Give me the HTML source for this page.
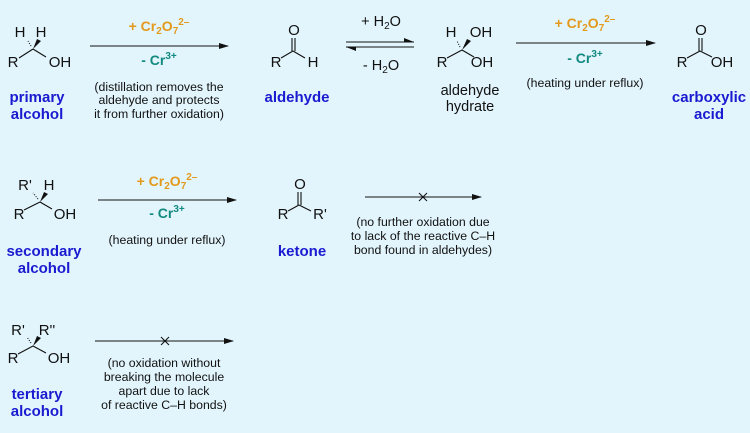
<!DOCTYPE html>
<html><head><meta charset="utf-8"><style>
html,body{margin:0;padding:0;background:#e2f5fc;}
svg{display:block;font-family:"Liberation Sans",Arial,sans-serif;}
.s{font-size:15px;fill:#111;}
.b{font-size:15px;font-weight:bold;fill:#1a1ad0;}
.o{font-size:14px;font-weight:bold;fill:#e39a1c;}
.t{font-size:14px;font-weight:bold;fill:#138a80;}
.n{font-size:12.3px;fill:#111;}
.h{font-size:14.5px;fill:#111;}
line{stroke:#111;stroke-width:1.1;}
</style></head><body>
<svg width="750" height="433" viewBox="0 0 750 433">
<defs><marker id="a" markerWidth="10" markerHeight="6" refX="9" refY="3" orient="auto" markerUnits="userSpaceOnUse"><path d="M0,0 L10,3 L0,6 Z" fill="#111"/></marker></defs>
<g text-anchor="middle">
<!-- primary alcohol -->
<text class="s" x="20" y="37">H</text><text class="s" x="41" y="37">H</text>
<text class="s" x="13" y="67">R</text><text class="s" x="60" y="67">OH</text>
<line x1="19" y1="58" x2="33" y2="49"/><line x1="33" y1="49" x2="46" y2="57"/>
<path d="M33,49 L37,39 L41,41 Z" fill="#111"/>
<line x1="31" y1="46" x2="28" y2="41" stroke-dasharray="1,1.5" stroke-width="2.5"/>
<text class="b" x="37" y="102">primary</text><text class="b" x="37" y="119">alcohol</text>
<!-- arrow 1 -->
<line x1="90" y1="46" x2="228" y2="46" marker-end="url(#a)"/>
<text class="o" x="159" y="31">+ Cr<tspan font-size="10" dy="3">2</tspan><tspan dy="-3">O</tspan><tspan font-size="10" dy="3">7</tspan><tspan font-size="10" dy="-9">2–</tspan></text>
<text class="t" x="159" y="65">- Cr<tspan font-size="10" dy="-6">3+</tspan></text>
<text class="n" x="159" y="91">(distillation removes the</text>
<text class="n" x="159" y="104">aldehyde and protects</text>
<text class="n" x="159" y="118">it from further oxidation)</text>
<!-- aldehyde -->
<text class="s" x="294" y="35">O</text>
<text class="s" x="276" y="67">R</text><text class="s" x="313" y="67">H</text>
<line x1="292" y1="38" x2="292" y2="51"/><line x1="295" y1="38" x2="295" y2="51"/>
<line x1="281" y1="58" x2="293" y2="51"/><line x1="293" y1="51" x2="305" y2="58"/>
<text class="b" x="297" y="102">aldehyde</text>
<!-- equilibrium -->
<text class="h" x="381" y="26">+ H<tspan font-size="10" dy="3">2</tspan><tspan dy="-3">O</tspan></text>
<text class="h" x="381" y="70">- H<tspan font-size="10" dy="3">2</tspan><tspan dy="-3">O</tspan></text>
<line x1="346" y1="42" x2="414" y2="42"/><path d="M404,38 L414,42 L404,42 Z" fill="#111"/>
<line x1="346" y1="47" x2="414" y2="47"/><path d="M356,51 L346,47 L356,47 Z" fill="#111"/>
<!-- hydrate -->
<text class="s" x="451" y="37">H</text><text class="s" x="481" y="37">OH</text>
<text class="s" x="442" y="67">R</text><text class="s" x="482" y="67">OH</text>
<line x1="447" y1="58" x2="462" y2="50"/><line x1="462" y1="50" x2="474" y2="57"/>
<path d="M462,50 L467,39 L471,41 Z" fill="#111"/>
<line x1="460" y1="47" x2="457" y2="41" stroke-dasharray="1,1.5" stroke-width="2.5"/>
<text class="h" x="470" y="95">aldehyde</text><text class="h" x="470" y="111">hydrate</text>
<!-- arrow 3 -->
<line x1="516" y1="43" x2="655" y2="43" marker-end="url(#a)"/>
<text class="o" x="585" y="28">+ Cr<tspan font-size="10" dy="3">2</tspan><tspan dy="-3">O</tspan><tspan font-size="10" dy="3">7</tspan><tspan font-size="10" dy="-9">2–</tspan></text>
<text class="t" x="585" y="63">- Cr<tspan font-size="10" dy="-6">3+</tspan></text>
<text class="n" x="585" y="87">(heating under reflux)</text>
<!-- acid -->
<text class="s" x="701" y="35">O</text>
<text class="s" x="682" y="67">R</text><text class="s" x="722" y="67">OH</text>
<line x1="699" y1="38" x2="699" y2="51"/><line x1="702" y1="38" x2="702" y2="51"/>
<line x1="687" y1="58" x2="700" y2="51"/><line x1="700" y1="51" x2="712" y2="57"/>
<text class="b" x="709" y="102">carboxylic</text><text class="b" x="709" y="119">acid</text>

<!-- secondary -->
<text class="s" x="25" y="190">R'</text><text class="s" x="49" y="190">H</text>
<text class="s" x="19" y="219">R</text><text class="s" x="65" y="219">OH</text>
<line x1="24" y1="210" x2="40" y2="202"/><line x1="40" y1="202" x2="52" y2="209"/>
<path d="M40,202 L44,192 L48,194 Z" fill="#111"/>
<line x1="38" y1="199" x2="33" y2="193" stroke-dasharray="1,1.5" stroke-width="2.5"/>
<text class="b" x="44" y="256">secondary</text><text class="b" x="44" y="273">alcohol</text>
<line x1="98" y1="200" x2="236" y2="200" marker-end="url(#a)"/>
<text class="o" x="167" y="186">+ Cr<tspan font-size="10" dy="3">2</tspan><tspan dy="-3">O</tspan><tspan font-size="10" dy="3">7</tspan><tspan font-size="10" dy="-9">2–</tspan></text>
<text class="t" x="167" y="218">- Cr<tspan font-size="10" dy="-6">3+</tspan></text>
<text class="n" x="167" y="244">(heating under reflux)</text>
<!-- ketone -->
<text class="s" x="300" y="189">O</text>
<text class="s" x="283" y="219">R</text><text class="s" x="320" y="219">R'</text>
<line x1="298" y1="192" x2="298" y2="205"/><line x1="301" y1="192" x2="301" y2="205"/>
<line x1="288" y1="211" x2="299" y2="205"/><line x1="299" y1="205" x2="311" y2="211"/>
<text class="b" x="302" y="256">ketone</text>
<line x1="365" y1="197" x2="481" y2="197" marker-end="url(#a)"/>
<line x1="419" y1="193" x2="427" y2="201"/><line x1="427" y1="193" x2="419" y2="201"/>
<text class="n" x="423" y="226">(no further oxidation due</text>
<text class="n" x="423" y="240">to lack of the reactive C–H</text>
<text class="n" x="423" y="254">bond found in aldehydes)</text>

<!-- tertiary -->
<text class="s" x="18" y="335">R'</text><text class="s" x="47" y="335">R''</text>
<text class="s" x="13" y="363">R</text><text class="s" x="59" y="363">OH</text>
<line x1="18" y1="354" x2="33" y2="346"/><line x1="33" y1="346" x2="46" y2="353"/>
<path d="M33,346 L37,336 L41,338 Z" fill="#111"/>
<line x1="31" y1="343" x2="27" y2="337" stroke-dasharray="1,1.5" stroke-width="2.5"/>
<text class="b" x="37" y="399">tertiary</text><text class="b" x="37" y="416">alcohol</text>
<line x1="95" y1="341" x2="233" y2="341" marker-end="url(#a)"/>
<line x1="161" y1="337" x2="169" y2="345"/><line x1="169" y1="337" x2="161" y2="345"/>
<text class="n" x="164" y="367">(no oxidation without</text>
<text class="n" x="164" y="381">breaking the molecule</text>
<text class="n" x="164" y="395">apart due to lack</text>
<text class="n" x="164" y="409">of reactive C–H bonds)</text>
</g>
</svg>
</body></html>
